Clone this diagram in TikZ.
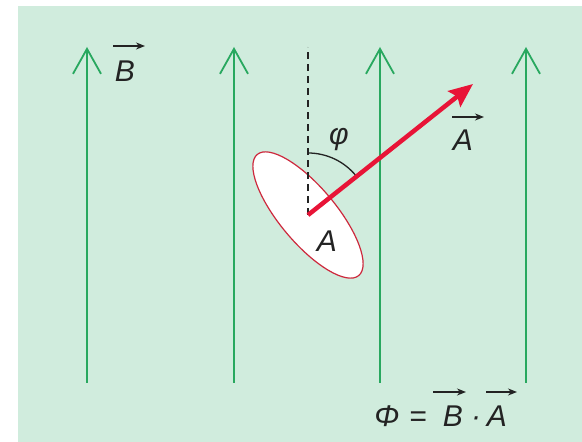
\documentclass[tikz,border=0pt]{standalone}
\usepackage{fontspec}
\setmainfont{Liberation Sans}
\usetikzlibrary{arrows.meta}
\definecolor{bg}{RGB}{208,236,221}
\definecolor{fieldgreen}{RGB}{40,168,95}
\definecolor{vecred}{RGB}{232,20,55}
\definecolor{rimred}{RGB}{205,40,60}
\definecolor{ink}{RGB}{35,35,35}
\begin{document}
\begin{tikzpicture}[x=1pt,y=1pt,
  fieldline/.style={draw=fieldgreen,line width=1.8pt,-{Straight Barb[length=25pt,width=28pt]}},
  lbl/.style={inner sep=0pt,text=ink,font=\fontsize{30}{36}\selectfont\itshape},
  overarrow/.style={draw=ink,line width=1.5pt,-{Stealth[length=9pt,width=7pt]}},
  normalvec/.style={draw=vecred,line width=4.5pt,-{Stealth[length=24pt,width=20pt,inset=4pt]}},
]
\useasboundingbox (0,0) rectangle (582,442);
\fill[bg] (18,0) rectangle (582,436);
\foreach \x/\n in {87/1,234/2,380/3,526/4}{
  \coordinate (b\n) at (\x,59);
  \coordinate (t\n) at (\x,395);
  \draw[fieldline] (b\n) -- (t\n);
}
\coordinate (c) at (308,227);
\coordinate (dtop) at (308,395);
\coordinate (tip) at (473,358);
% surface
\draw[rimred,fill=white,line width=1.2pt,rotate around={-50:(c)}] (c) ellipse [x radius=79, y radius=28];
% vertical reference
\draw[ink,line width=1.3pt,dash pattern=on 7pt off 5pt] (c) -- (dtop);
% angle arc
\draw[ink,line width=1.3pt] (c) ++(90:62) arc[start angle=90,end angle=39,radius=62];
% normal vector
\draw[normalvec] (c) -- (tip);
% labels
\node[lbl] (phi) at (339,302) {φ};
\node[lbl] (Aarea) at (327,201) {A};
\node[lbl] (Bl) at (125,371) {B};
\draw[overarrow] ([shift={(-12,25)}]Bl.center) -- ([shift={(20,25)}]Bl.center);
\node[lbl] (Al) at (463,302) {A};
\draw[overarrow] ([shift={(-11,23)}]Al.center) -- ([shift={(21,23)}]Al.center);
% formula
\node[lbl,anchor=base] (fphi) at (387,15) {Φ};
\node[lbl,anchor=base] (feq) at (418,15) {=};
\node[lbl,anchor=base] (fB) at (453,15) {B};
\node[lbl,anchor=base] (fdot) at (476,15) {·};
\node[lbl,anchor=base] (fA) at (497,15) {A};
\draw[overarrow] (433,50) -- (466,50);
\draw[overarrow] (486,50) -- (517,50);
\end{tikzpicture}
\end{document}
